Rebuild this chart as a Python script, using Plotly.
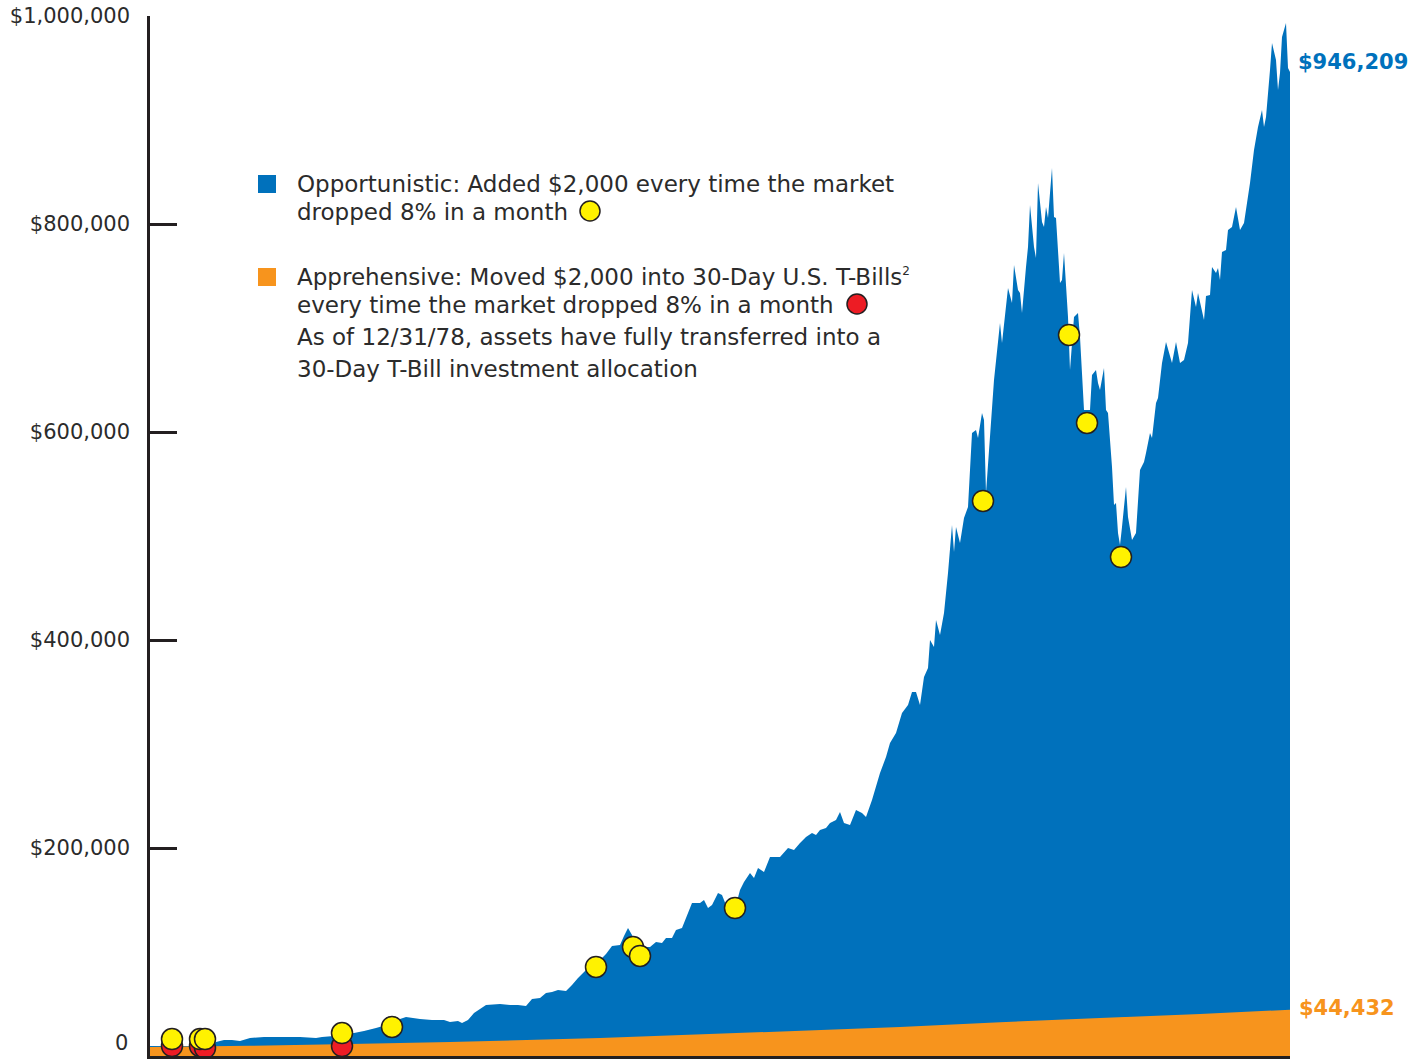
import plotly.graph_objects as go

# ---- data (months since start, values in thousands of dollars) ----
opp_months = [0, 5, 11, 18, 25, 30, 33, 37, 41, 45, 50, 57, 65, 75, 83, 86, 92, 97, 102, 107,
              113, 120, 125, 128, 135, 141, 147, 150, 154, 156, 159, 162, 165, 168, 175, 180, 184, 188, 191, 195,
              198, 201, 204, 208, 211, 214, 219, 225, 228, 231, 235, 237, 239, 241, 243, 247, 250, 253, 256, 258,
              261, 263, 266, 268, 271, 275, 277, 279, 281, 284, 286, 288, 290, 293, 295, 297, 300, 302, 304, 307,
              310, 315, 319, 322, 325, 328, 331, 333, 335, 338, 340, 343, 345, 347, 350, 353, 356, 358, 361, 365,
              368, 370, 373, 376, 379, 381, 383, 385, 387, 389, 390, 392, 393, 395, 397, 399, 401, 402, 403, 405,
              407, 409, 411, 413, 414, 416, 417, 418, 422, 425, 426, 429, 431, 432, 434, 435, 436, 438, 439, 440,
              442, 443, 444, 446, 447, 448, 449, 451, 452, 453, 455, 456, 457, 459, 460, 462, 464, 465, 467, 470,
              471, 473, 474, 475, 477, 478, 479, 481, 482, 483, 484, 485, 486, 488, 489, 491, 493, 495, 497, 498,
              500, 501, 503, 504, 506, 508, 511, 513, 515, 517, 519, 521, 523, 524, 527, 528, 530, 531, 533, 534,
              535, 536, 538, 539, 541, 543, 545, 547, 550, 552, 554, 556, 557, 558, 560, 561, 563, 564, 565, 566,
              568, 569, 570]
opp_values = [9.6, 9.6, 9.6, 9.6, 9.6, 10.6, 13.5, 15.4, 15.4, 14.4, 17.3, 18.3, 18.3, 18.3, 17.3, 18.3, 19.2, 21.2, 22.1, 24.0,
              26.9, 30.8, 35.6, 37.5, 35.6, 34.6, 34.6, 32.7, 33.7, 31.7, 34.6, 41.3, 45.2, 49.0, 50.0, 49.0, 49.0, 48.1, 54.8, 55.8,
              60.6, 61.5, 63.5, 62.5, 68.3, 75.0, 84.6, 92.3, 98.1, 105.8, 106.7, 115.4, 123.1, 116.3, 104.8, 104.8, 104.8, 109.6, 108.7, 113.5,
              113.5, 121.2, 123.1, 132.7, 147.1, 147.1, 150.0, 142.3, 145.2, 156.7, 154.8, 145.2, 150.0, 145.2, 159.6, 167.3, 176.0, 171.2, 180.8, 176.9,
              191.3, 191.3, 200.0, 198.1, 204.8, 210.6, 214.4, 212.5, 217.3, 219.2, 224.0, 226.9, 234.6, 224.0, 222.1, 236.5, 233.7, 229.8, 246.2, 272.1,
              287.5, 301.0, 310.6, 329.8, 337.5, 350.0, 350.0, 337.5, 364.4, 373.1, 400.0, 393.3, 419.2, 404.8, 425.9, 464.4, 510.6, 484.6, 508.7, 493.3,
              517.3, 527.9, 599.0, 601.9, 594.2, 618.3, 611.5, 541.3, 650.0, 704.8, 685.6, 738.5, 724.0, 760.6, 736.5, 733.7, 714.4, 758.7, 777.9, 818.3,
              777.9, 767.3, 839.4, 801.9, 797.1, 816.3, 805.8, 853.8, 806.7, 805.8, 743.3, 746.2, 772.1, 710.6, 659.6, 710.6, 714.4, 691.3, 621.2, 621.2,
              654.8, 659.6, 647.1, 640.4, 661.5, 621.2, 618.3, 566.3, 529.8, 531.7, 502.9, 491.3, 508.7, 547.1, 518.3, 496.2, 502.9, 563.5, 571.2, 579.8,
              599.0, 594.2, 627.9, 632.7, 666.3, 686.5, 666.3, 686.5, 666.3, 669.2, 685.6, 736.5, 720.2, 733.7, 707.7, 730.8, 731.7, 758.7, 752.9, 757.7,
              746.2, 773.1, 775.0, 794.2, 797.1, 816.3, 794.2, 800.9, 839.4, 871.2, 893.3, 909.6, 893.3, 902.9, 948.1, 974.0, 957.7, 928.8, 945.2, 979.8,
              993.3, 950.0, 946.209]

app_months = [0, 50, 100, 150, 225, 300, 375, 425, 475, 525, 570]
app_values = [8.7, 9.8, 11.5, 13.5, 17.3, 22.5, 27.9, 32.5, 36.5, 40.5, 44.432]

buy_months = [11, 25, 27.5, 96, 121, 223, 241.5, 245, 292.5, 416.5, 459.5, 468.5, 485.5]
buy_values = [16.3, 16.3, 16.3, 22.1, 27.9, 85.6, 104.8, 96.2, 142.3, 533.7, 693.3, 608.7, 479.8]

sell_months = [11, 25, 27.5, 96]
sell_values = [9.6, 9.6, 7.7, 9.6]

y_ticks = [200000, 400000, 600000, 800000, 1000000]
y_tick_text = ["$200,000", "$400,000", "$600,000", "$800,000", "$1,000,000"]

opp_end_label = "$946,209"
app_end_label = "$44,432"

BLUE = "#0071BC"
ORANGE = "#F7941D"
YELLOW = "#FFF200"
RED = "#ED1C24"
DARK = "#231F20"
TEXT = "#2B2B2B"

k = 1000.0
fig = go.Figure()
fig.add_trace(go.Scatter(x=opp_months, y=[v * k for v in opp_values], mode="none",
                         fill="tozeroy", fillcolor=BLUE, hoverinfo="skip"))
fig.add_trace(go.Scatter(x=app_months, y=[v * k for v in app_values], mode="none",
                         fill="tozeroy", fillcolor=ORANGE, hoverinfo="skip"))
fig.add_trace(go.Scatter(x=sell_months, y=[v * k for v in sell_values], mode="markers",
                         marker=dict(size=21, color=RED, line=dict(color=DARK, width=1.5)),
                         cliponaxis=False))
fig.add_trace(go.Scatter(x=buy_months, y=[v * k for v in buy_values], mode="markers",
                         marker=dict(size=21, color=YELLOW, line=dict(color=DARK, width=1.5)),
                         cliponaxis=False))

W, H = 1426, 1059
L, R, T, B = 150, 1290, 16, 1056


def px(x):
    return (x - L) / (R - L)


def py(y):
    return (B - y) / (B - T)


# legend text lines
lines = [
    ("Opportunistic: Added $2,000 every time the market", 184),
    ("dropped 8% in a month", 212),
    ("Apprehensive: Moved $2,000 into 30-Day U.S. T-Bills<sup><span style='font-size:12px'>2</span></sup>", 277),
    ("every time the market dropped 8% in a month", 305),
    ("As of 12/31/78, assets have fully transferred into a", 337),
    ("30-Day T-Bill investment allocation", 369),
]
annotations = []
for txt, yy in lines:
    annotations.append(dict(text=txt, xref="paper", yref="paper", x=px(295), y=py(yy),
                            xanchor="left", yanchor="middle", showarrow=False,
                            font=dict(family="DejaVu Sans", size=23, color=TEXT)))

annotations.append(dict(text="0", xref="paper", yref="paper", x=px(130), y=py(1043),
                        xanchor="right", yanchor="middle", showarrow=False,
                        font=dict(family="DejaVu Sans", size=21, color=TEXT)))
annotations.append(dict(text="<b>" + opp_end_label + "</b>", xref="paper", yref="paper", x=px(1296), y=py(62),
                        xanchor="left", yanchor="middle", showarrow=False,
                        font=dict(family="DejaVu Sans", size=21, color=BLUE)))
annotations.append(dict(text="<b>" + app_end_label + "</b>", xref="paper", yref="paper", x=px(1297), y=py(1008),
                        xanchor="left", yanchor="middle", showarrow=False,
                        font=dict(family="DejaVu Sans", size=21, color=ORANGE)))

shapes = [
    dict(type="rect", xref="paper", yref="paper", x0=px(258), x1=px(276), y0=py(193), y1=py(175),
         fillcolor=BLUE, line=dict(width=0)),
    dict(type="rect", xref="paper", yref="paper", x0=px(258), x1=px(276), y0=py(286), y1=py(268),
         fillcolor=ORANGE, line=dict(width=0)),
    dict(type="circle", xref="paper", yref="paper", x0=px(580), x1=px(600), y0=py(221), y1=py(201),
         fillcolor=YELLOW, line=dict(color=DARK, width=1.5)),
    dict(type="circle", xref="paper", yref="paper", x0=px(847), x1=px(867), y0=py(314), y1=py(294),
         fillcolor=RED, line=dict(color=DARK, width=1.5)),
]

fig.update_layout(
    width=W, height=H,
    margin=dict(l=L, r=W - R, t=T, b=H - B),
    paper_bgcolor="white", plot_bgcolor="white",
    showlegend=False,
    annotations=annotations,
    shapes=shapes,
    xaxis=dict(range=[0, 570], showgrid=False, zeroline=False, showticklabels=False,
               ticks="", showline=True, linecolor=DARK, linewidth=3, fixedrange=True),
    yaxis=dict(range=[0, 1000000], showgrid=False, zeroline=False,
               tickvals=y_ticks, ticktext=y_tick_text,
               ticks="inside", ticklen=27, tickwidth=2.5, tickcolor=DARK,
               ticklabelstandoff=13,
               showline=True, linecolor=DARK, linewidth=2.5,
               tickfont=dict(family="DejaVu Sans", size=21, color=TEXT)),
)

fig.write_html("out.html")
